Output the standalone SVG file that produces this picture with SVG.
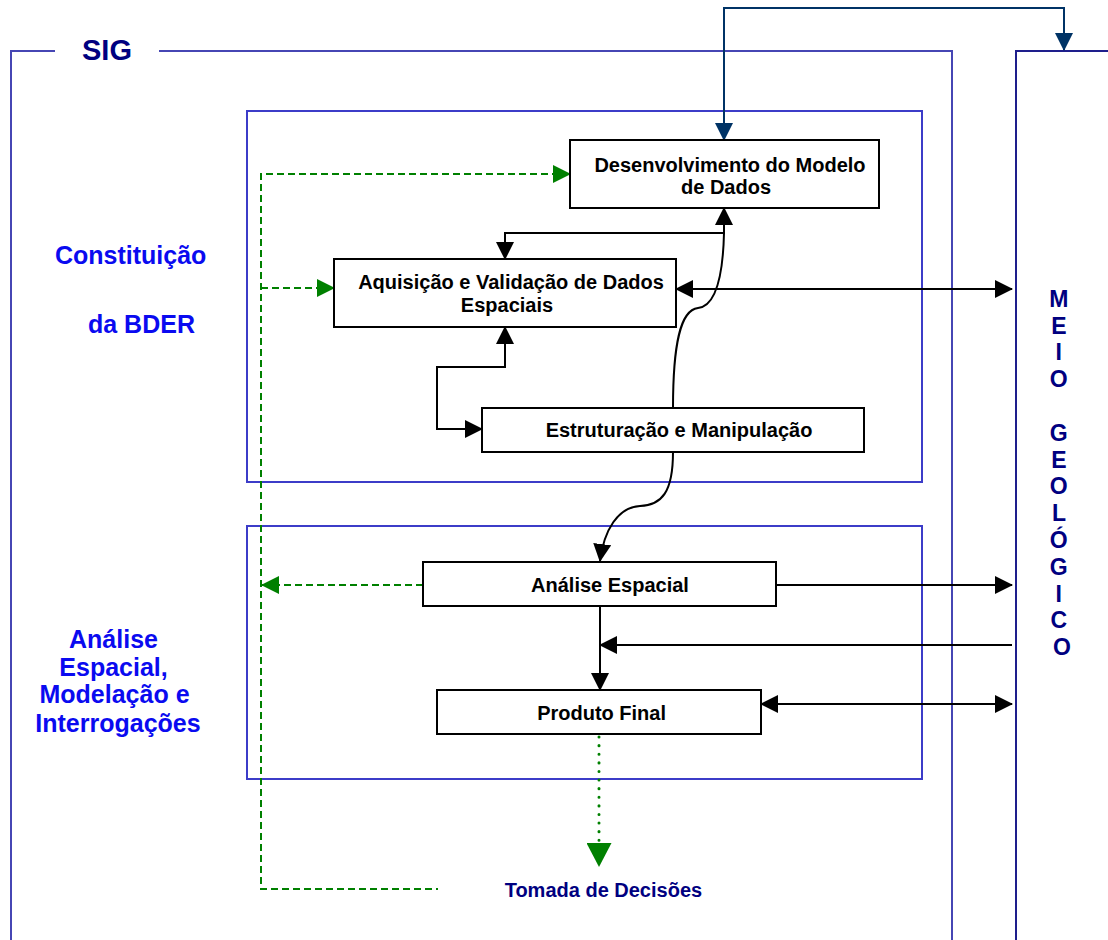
<svg xmlns="http://www.w3.org/2000/svg" width="1108" height="940" viewBox="0 0 1108 940">
  <style>
    text { font-family: "Liberation Sans", Arial, sans-serif; font-weight: bold; }
    .box { fill: #ffffff; stroke: #000000; stroke-width: 2; }
    .btxt { font-size: 20px; fill: #000000; text-anchor: middle; }
    .frame { fill: none; stroke: #4646b4; stroke-width: 2; }
    .zone { fill: none; stroke: #3c3cc8; stroke-width: 2; }
    .meio { fill: none; stroke: #1e1e8c; stroke-width: 2; }
    .blk { fill: none; stroke: #000000; stroke-width: 2; }
    .nav { fill: none; stroke: #003366; stroke-width: 2; }
    .grn { fill: none; stroke: #008000; stroke-width: 2; stroke-dasharray: 7 4; }
    .dot { fill: none; stroke: #008000; stroke-width: 3; stroke-linecap: round; stroke-dasharray: 0.1 8.5; }
    .lbl { font-size: 25px; fill: #0a0af0; }
    .navytxt { fill: #000080; }
  </style>
  <defs>
    <marker id="arrowBlack" markerUnits="userSpaceOnUse" viewBox="0 0 18 18" markerWidth="18" markerHeight="18" refX="17" refY="9" orient="auto-start-reverse">
      <path d="M0,0 L18,9 L0,18 z" fill="#000000" stroke="none"/>
    </marker>
    <marker id="arrowGreen" markerUnits="userSpaceOnUse" viewBox="0 0 18 18" markerWidth="18" markerHeight="18" refX="17" refY="9" orient="auto-start-reverse">
      <path d="M0,0 L18,9 L0,18 z" fill="#008000" stroke="none"/>
    </marker>
    <marker id="arrowNavy" markerUnits="userSpaceOnUse" viewBox="0 0 18 18" markerWidth="18" markerHeight="18" refX="17" refY="9" orient="auto-start-reverse">
      <path d="M0,0 L18,9 L0,18 z" fill="#003366" stroke="none"/>
    </marker>
    <marker id="arrowGreenBig" markerUnits="userSpaceOnUse" viewBox="0 0 24 25" markerWidth="24" markerHeight="25" refX="0" refY="12.5" orient="auto">
      <path d="M0,0 L24,12.5 L0,25 z" fill="#008000" stroke="none"/>
    </marker>
  </defs>

  <rect x="0" y="0" width="1108" height="940" fill="#ffffff"/>

  <!-- SIG frame (open at the title) -->
  <g id="frame-sig">
    <path class="frame" d="M55,51 L11,51 L11,940 M159,51 L952,51 L952,940"/>
    <text x="82" y="60" font-size="29" class="navytxt">SIG</text>
  </g>

  <!-- Meio geológico frame -->
  <g id="frame-meio">
    <path class="meio" d="M1016,940 L1016,51 L1108,51"/>
    <text x="1062" y="306.7" font-size="23" text-anchor="middle" class="navytxt">
      <tspan x="1062">M</tspan>
      <tspan x="1062" dy="26.8">E</tspan>
      <tspan x="1062" dy="26.8">I</tspan>
      <tspan x="1062" dy="26.8">O</tspan>
      <tspan x="1062" dy="53.6">G</tspan>
      <tspan x="1062" dy="26.8">E</tspan>
      <tspan x="1062" dy="26.8">O</tspan>
      <tspan x="1062" dy="26.8">L</tspan>
      <tspan x="1062" dy="26.8">Ó</tspan>
      <tspan x="1062" dy="26.8">G</tspan>
      <tspan x="1062" dy="26.8">I</tspan>
      <tspan x="1062" dy="26.8">C</tspan>
      <tspan x="1062" dy="26.8">O</tspan>
    </text>
  </g>

  <!-- Phase zones -->
  <g id="zone-constituicao">
    <rect class="zone" x="247" y="111" width="675" height="371"/>
    <text class="lbl" x="55" y="264">Constituição</text>
    <text class="lbl" x="88" y="333">da BDER</text>
  </g>
  <g id="zone-analise">
    <rect class="zone" x="247" y="526" width="675" height="253"/>
    <text class="lbl" text-anchor="middle">
      <tspan x="117" y="648">Análise</tspan>
      <tspan x="117" y="675.5">Espacial,</tspan>
      <tspan x="118" y="703.3">Modelação e</tspan>
      <tspan x="118" y="731.5">Interrogações</tspan>
    </text>
  </g>

  <!-- Connectors -->
  <g id="connectors">
    <!-- external link over the top: model <-> geological environment -->
    <path class="nav" d="M724,140 L724,8 L1064,8 L1064,50" marker-start="url(#arrowNavy)" marker-end="url(#arrowNavy)"/>

    <!-- acquisition <-> data model -->
    <path class="blk" d="M505,259 L505,233 L724,233 L724,208" marker-start="url(#arrowBlack)" marker-end="url(#arrowBlack)"/>
    <!-- structuring -> data model (curved) -->
    <path class="blk" d="M673,408 C673,345 680,310 698,308 C716,306 723,275 724,233"/>
    <!-- acquisition <-> geological environment -->
    <path class="blk" d="M676,289 L1012,289" marker-start="url(#arrowBlack)" marker-end="url(#arrowBlack)"/>
    <!-- acquisition <-> structuring -->
    <path class="blk" d="M505,327 L505,367 L437,367 L437,429 L482,429" marker-start="url(#arrowBlack)" marker-end="url(#arrowBlack)"/>
    <!-- structuring -> spatial analysis (curved) -->
    <path class="blk" d="M673,452 C673,492 662,505 640,506 C618,507 604,530 600,561" marker-end="url(#arrowBlack)"/>
    <!-- spatial analysis -> geological environment -->
    <path class="blk" d="M776,585 L1012,585" marker-end="url(#arrowBlack)"/>
    <!-- geological environment -> analysis/product link -->
    <path class="blk" d="M1012,645 L600,645" marker-end="url(#arrowBlack)"/>
    <!-- spatial analysis -> final product -->
    <path class="blk" d="M600,606 L600,690" marker-end="url(#arrowBlack)"/>
    <!-- final product <-> geological environment -->
    <path class="blk" d="M761,704 L1012,704" marker-start="url(#arrowBlack)" marker-end="url(#arrowBlack)"/>

    <!-- decision feedback loop (dashed green) -->
    <path class="grn" d="M570,174 L261,174 L261,889 L438,889" marker-start="url(#arrowGreen)"/>
    <path class="grn" d="M261,288 L334,288" marker-end="url(#arrowGreen)"/>
    <path class="grn" d="M423,585 L262,585" marker-end="url(#arrowGreen)"/>
    <!-- final product -> decision making (dotted) -->
    <path class="dot" d="M599,737 L599,843" marker-end="url(#arrowGreenBig)"/>
  </g>

  <!-- Process nodes -->
  <g id="node-modelo">
    <rect class="box" x="570" y="140" width="309" height="68"/>
    <text class="btxt" x="730" y="171.7">Desenvolvimento do Modelo</text>
    <text class="btxt" x="726" y="193.5">de Dados</text>
  </g>
  <g id="node-aquisicao">
    <rect class="box" x="334" y="259" width="342" height="68"/>
    <text class="btxt" x="511" y="289.3">Aquisição e Validação de Dados</text>
    <text class="btxt" x="507" y="312.3">Espaciais</text>
  </g>
  <g id="node-estruturacao">
    <rect class="box" x="482" y="408" width="382" height="44"/>
    <text class="btxt" x="679" y="437.3">Estruturação e Manipulação</text>
  </g>
  <g id="node-analise">
    <rect class="box" x="423" y="562" width="353" height="44"/>
    <text class="btxt" x="610" y="591.7">Análise Espacial</text>
  </g>
  <g id="node-produto">
    <rect class="box" x="437" y="690" width="324" height="44"/>
    <text class="btxt" x="601.6" y="720">Produto Final</text>
  </g>
  <g id="node-decisoes">
    <text class="btxt navytxt" x="603.4" y="896.7">Tomada de Decisões</text>
  </g>
</svg>
